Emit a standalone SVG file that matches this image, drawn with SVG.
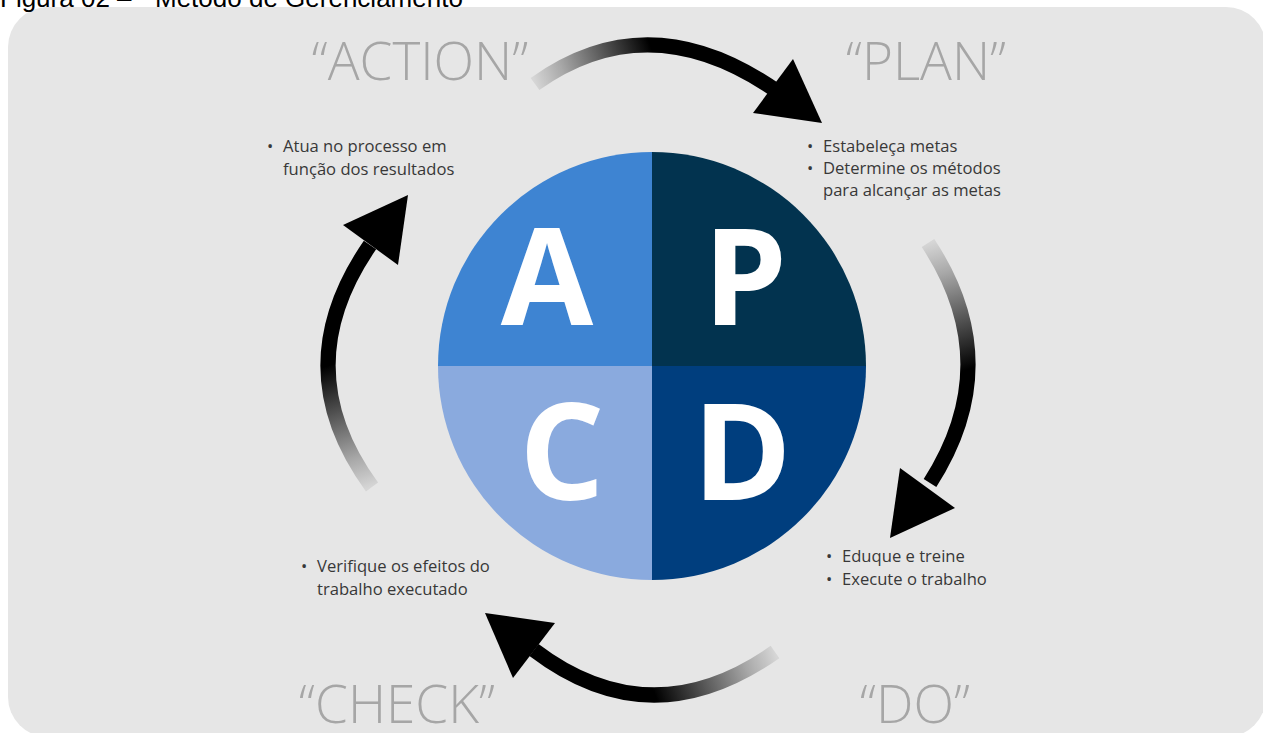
<svg xmlns="http://www.w3.org/2000/svg" width="1263" height="733" viewBox="0 0 1263 733">
  <style>
    .caption { font-family: "Liberation Sans", Arial, sans-serif; font-size: 26px; fill: #000; }
    .stage { font-family: "Open Sans", "DejaVu Sans", sans-serif; font-weight: 300; font-size: 53px; fill: #a6a6a6; text-anchor: middle; }
    .letter { font-family: "Open Sans", "DejaVu Sans", sans-serif; font-weight: 700; font-size: 134px; fill: #ffffff; text-anchor: middle; }
    .note { font-family: "Open Sans", "DejaVu Sans", sans-serif; font-size: 16.6px; fill: #383838; }
    .arc { fill: none; stroke-width: 15; }
    .head { fill: #000; }
  </style>
  <defs>
    <linearGradient id="gTop" gradientUnits="userSpaceOnUse" x1="535" y1="84" x2="650" y2="45">
      <stop offset="0" stop-color="#d6d6d6"/>
      <stop offset="0.25" stop-color="#a8a8a8"/>
      <stop offset="1" stop-color="#000"/>
    </linearGradient>
    <linearGradient id="gRight" gradientUnits="userSpaceOnUse" x1="928" y1="243" x2="966" y2="370">
      <stop offset="0" stop-color="#d6d6d6"/>
      <stop offset="0.25" stop-color="#a8a8a8"/>
      <stop offset="1" stop-color="#000"/>
    </linearGradient>
    <linearGradient id="gBottom" gradientUnits="userSpaceOnUse" x1="775" y1="652" x2="655" y2="695">
      <stop offset="0" stop-color="#d6d6d6"/>
      <stop offset="0.25" stop-color="#a8a8a8"/>
      <stop offset="1" stop-color="#000"/>
    </linearGradient>
    <linearGradient id="gLeft" gradientUnits="userSpaceOnUse" x1="372" y1="487" x2="330" y2="365">
      <stop offset="0" stop-color="#d6d6d6"/>
      <stop offset="0.25" stop-color="#a8a8a8"/>
      <stop offset="1" stop-color="#000"/>
    </linearGradient>
  </defs>

  <!-- page and panel -->
  <rect x="0" y="0" width="1263" height="733" fill="#ffffff"/>
  <rect x="8" y="7" width="1258" height="730" rx="40" ry="40" fill="#e6e6e6"/>
  <text class="caption" x="0" y="7">Figura 02 –</text>
  <text class="caption" x="155" y="7">Método de Gerenciamento</text>

  <!-- stage titles -->
  <text class="stage" x="420" y="80">“ACTION”</text>
  <text class="stage" x="926" y="80">“PLAN”</text>
  <text class="stage" x="397" y="723">“CHECK”</text>
  <text class="stage" x="915" y="723">“DO”</text>

  <!-- quadrant wheel -->
  <g id="node-a">
    <path d="M652 366 L438 366 A214 214 0 0 1 652 152 Z" fill="#3e84d2"/>
    <text class="letter" x="547" y="325">A</text>
  </g>
  <g id="node-p">
    <path d="M652 366 L652 152 A214 214 0 0 1 866 366 Z" fill="#02334f"/>
    <text class="letter" x="745" y="325">P</text>
  </g>
  <g id="node-c">
    <path d="M652 366 L652 580 A214 214 0 0 1 438 366 Z" fill="#8aaade"/>
    <text class="letter" x="562" y="500">C</text>
  </g>
  <g id="node-d">
    <path d="M652 366 L866 366 A214 214 0 0 1 652 580 Z" fill="#003e7e"/>
    <text class="letter" x="742" y="500">D</text>
  </g>

  <!-- notes -->
  <g id="note-action">
    <text class="note" x="267" y="152">•</text>
    <text class="note" x="283" y="152">Atua no processo em</text>
    <text class="note" x="283" y="175">função dos resultados</text>
  </g>
  <g id="note-plan">
    <text class="note" x="807" y="152">•</text>
    <text class="note" x="823" y="152">Estabeleça metas</text>
    <text class="note" x="807" y="174">•</text>
    <text class="note" x="823" y="174">Determine os métodos</text>
    <text class="note" x="823" y="196">para alcançar as metas</text>
  </g>
  <g id="note-do">
    <text class="note" x="826" y="562">•</text>
    <text class="note" x="842" y="562">Eduque e treine</text>
    <text class="note" x="826" y="585">•</text>
    <text class="note" x="842" y="585">Execute o trabalho</text>
  </g>
  <g id="note-check">
    <text class="note" x="301" y="572">•</text>
    <text class="note" x="317" y="572">Verifique os efeitos do</text>
    <text class="note" x="317" y="595">trabalho executado</text>
  </g>

  <!-- cycle arrows -->
  <g id="connectors">
    <path class="arc" d="M535 84 Q650 2 778 92" stroke="url(#gTop)"/>
    <polygon class="head" points="793,59 822,123 753,113"/>
    <path class="arc" d="M928 243 Q1007 363 930 483" stroke="url(#gRight)"/>
    <polygon class="head" points="900,468 955,508 890,538"/>
    <path class="arc" d="M775 652 Q651 739 534 650" stroke="url(#gBottom)"/>
    <polygon class="head" points="485,613 555,623 513,678"/>
    <path class="arc" d="M372 487 Q285 368 370 245" stroke="url(#gLeft)"/>
    <polygon class="head" points="343,225 408,195 398,265"/>
  </g>
</svg>
